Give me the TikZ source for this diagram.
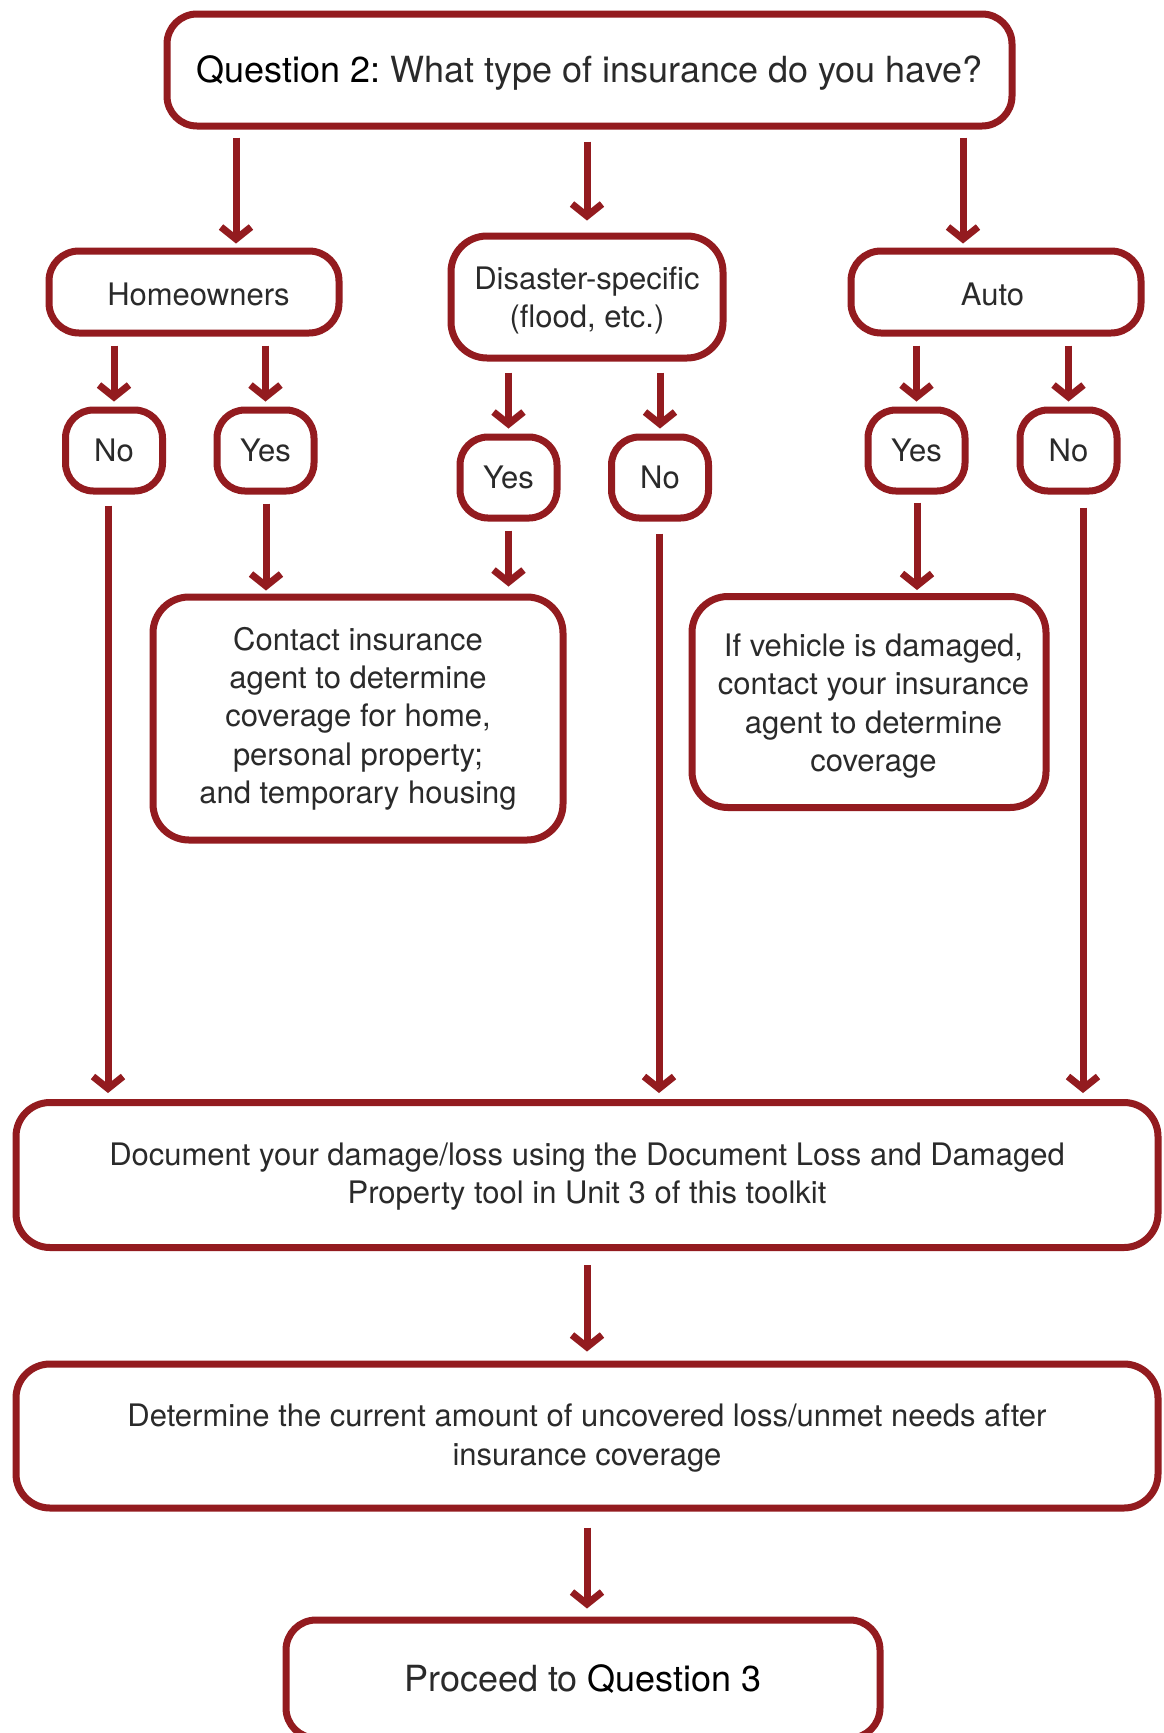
\documentclass[tikz,border=0pt]{standalone}
\usepackage{fontspec}
\setmainfont{TeX Gyre Heros}
\usetikzlibrary{arrows.meta}
\definecolor{dred}{HTML}{931B1F}
\definecolor{txt}{HTML}{2A2A2A}
\newcommand{\upstrut}[1]{\rule{0pt}{#1}}
\newcommand{\rpad}{\hspace*{9pt}}
\begin{document}
\frenchspacing
\begin{tikzpicture}[x=1pt,y=-1pt,
  box/.style={draw=dred, line width=7pt, rounded corners=30pt, fill=white, align=center,
    inner sep=0pt, text=txt, font=\fontsize{31}{38.3}\selectfont},
  small/.style={box, minimum width=97pt, minimum height=81pt, rounded corners=28pt},
  arr/.style={draw=dred, line width=7pt, -{Straight Barb[length=12pt,width=30pt]},
    shorten <=10pt, shorten >=5pt}]
\useasboundingbox (0,0) rectangle (1164,1733);
\fill[white] (0,0) rectangle (1164,1733);

% nodes
\node[box, minimum width=845pt, minimum height=112pt, font=\fontsize{36}{43}\selectfont]
  (top) at (589.5,70) {\upstrut{33pt}\textcolor{black}{Question 2:} What type of insurance do you have?};
\node[box, minimum width=290pt, minimum height=82pt] (home) at (194,292) {\upstrut{27pt}\rpad Homeowners};
\node[box, minimum width=272pt, minimum height=122pt, rounded corners=36pt] (dis) at (587,297)
  {\upstrut{29.5pt}Disaster-specific\\(flood, etc.)};
\node[box, minimum width=290pt, minimum height=82pt] (auto) at (996,292) {\upstrut{27pt}Auto\hspace*{7pt}};

\node[small] (noH)  at (114,450.5)   {No};
\node[small] (yesH) at (265.5,450.5) {Yes};
\node[small] (yesD) at (508.5,477.5) {Yes};
\node[small] (noD)  at (660,477.5)   {No};
\node[small] (yesA) at (916.5,450.5) {Yes};
\node[small] (noA)  at (1068.5,450.5) {No};

\node[box, minimum width=410pt, minimum height=243pt, rounded corners=36pt] (contact) at (358,718.5)
  {Contact insurance\\agent to determine\\coverage for home,\\personal property;\\and temporary housing};
\node[box, minimum width=354pt, minimum height=211pt, rounded corners=36pt] (veh) at (869,702)
  {\upstrut{31pt}\rpad If vehicle is damaged,\\\rpad contact your insurance\\\rpad agent to determine\\\rpad coverage};

\node[box, minimum width=1142pt, minimum height=145pt, rounded corners=34pt] (doc) at (587,1175)
  {\upstrut{25.6pt}Document your damage/loss using the Document Loss and Damaged\\Property tool in Unit 3 of this toolkit};
\node[box, minimum width=1142pt, minimum height=144pt, rounded corners=34pt] (det) at (587,1436)
  {\upstrut{27pt}Determine the current amount of uncovered loss/unmet needs after\\insurance coverage};
\node[box, minimum width=594pt, minimum height=118pt, rounded corners=30pt, font=\fontsize{36}{43}\selectfont]
  (proc) at (583,1679) {Proceed to \textcolor{black}{Question 3}};

% column coordinates
\coordinate (c236) at (236,0);
\coordinate (c587) at (587,0);
\coordinate (c963) at (963,0);
\coordinate (c108) at (108,0);
\coordinate (c266) at (266,0);
\coordinate (c508) at (508.5,0);
\coordinate (c659) at (659,0);
\coordinate (c917) at (917,0);
\coordinate (c1083) at (1083,0);

% connectors
\draw[arr, shorten <=8pt, shorten >=4pt] (top.south -| c236) -- (home.north -| c236);
\draw[arr, shorten <=12pt, shorten >=12pt] (top.south -| c587) -- (dis.north -| c587);
\draw[arr, shorten <=8pt, shorten >=4pt] (top.south -| c963) -- (auto.north -| c963);

\draw[arr, shorten <=9pt, shorten >=5pt] (home.south -| noH) -- (noH.north);
\draw[arr, shorten <=9pt, shorten >=5pt] (home.south -| yesH) -- (yesH.north);
\draw[arr, shorten <=11pt, shorten >=5pt] (dis.south -| yesD) -- (yesD.north);
\draw[arr, shorten <=11pt, shorten >=5pt] (dis.south -| noD) -- (noD.north);
\draw[arr, shorten <=9pt, shorten >=5pt] (auto.south -| yesA) -- (yesA.north);
\draw[arr, shorten <=9pt, shorten >=5pt] (auto.south -| noA) -- (noA.north);

\draw[arr, shorten <=9pt, shorten >=3pt] (yesH.south -| c266) -- (contact.north -| c266);
\draw[arr, shorten <=9pt, shorten >=7pt] (yesD.south -| c508) -- (contact.north -| c508);
\draw[arr, shorten <=8pt, shorten >=3pt] (yesA.south -| c917) -- (veh.north -| c917);

\draw[arr, shorten <=11pt, shorten >=6pt] (noH.south -| c108) -- (doc.north -| c108);
\draw[arr, shorten <=12pt, shorten >=6pt] (noD.south -| c659) -- (doc.north -| c659);
\draw[arr, shorten <=13pt, shorten >=6pt] (noA.south -| c1083) -- (doc.north -| c1083);

\draw[arr, shorten <=14pt, shorten >=9pt] (doc.south -| c587) -- (det.north -| c587);
\draw[arr, shorten <=16pt, shorten >=8pt] (det.south -| c587) -- (proc.north -| c587);
\end{tikzpicture}
\end{document}
